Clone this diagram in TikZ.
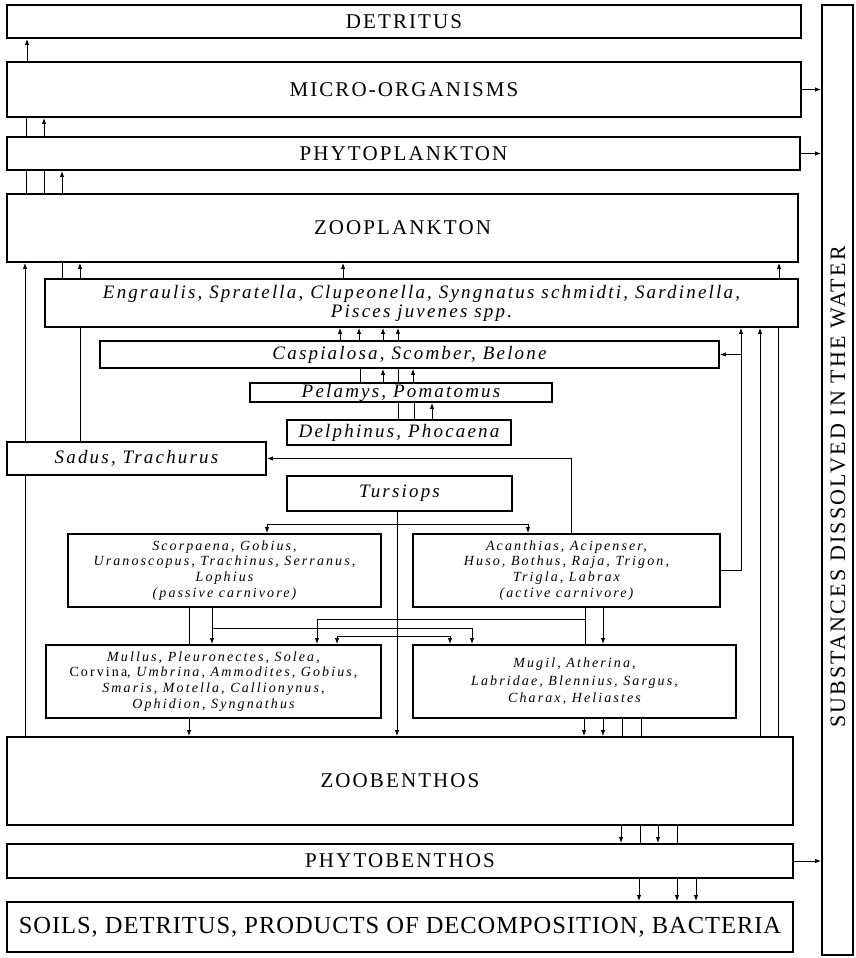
\documentclass[tikz,border=0pt]{standalone}
\usepackage{fontspec}
\setmainfont{Liberation Serif}
\newfontfamily\capsfont[LetterSpace=10]{Liberation Serif}
\newfontfamily\soilfont[LetterSpace=4]{Liberation Serif}
\newfontfamily\latfont[LetterSpace=11.5]{Liberation Serif}
\newfontfamily\smallfont[LetterSpace=15]{Liberation Serif}
\usetikzlibrary{arrows.meta}
\begin{document}
\begin{tikzpicture}[x=1pt,y=-1pt,
 box/.style={draw, line width=1.9pt, inner sep=0pt, align=center},
 caps/.style={font=\capsfont\fontsize{21}{24}\selectfont},
 bigcaps/.style={font=\soilfont\fontsize{24.5}{28}\selectfont},
 latin/.style={font=\latfont\itshape\fontsize{19}{19}\selectfont},
 small/.style={font=\smallfont\itshape\fontsize{14}{15.8}\selectfont},
 con/.style={line width=1pt},
 arr/.style={con,-{Latex[length=6pt,width=4.5pt]}}]
\useasboundingbox (0,0) rectangle (856,958);
% boxes
\node[box,caps,minimum width=794,minimum height=33] (det) at (404,21.5) {DETRITUS};
\node[box,caps,minimum width=794,minimum height=55] (micro) at (404,89.5) {MICRO-ORGANISMS};
\node[box,caps,minimum width=793,minimum height=33] (phyto) at (403.5,153.5) {PHYTOPLANKTON};
\node[box,caps,minimum width=791,minimum height=68] (zoo) at (402.5,228) {ZOOPLANKTON};
\node[box,latin,minimum width=753,minimum height=48] (eng) at (421.5,303) {Engraulis, Spratella, Clupeonella, Syngnatus schmidti, Sardinella,\\ Pisces juvenes spp.};
\node[box,latin,minimum width=619,minimum height=27] (casp) at (409.5,354.5) {Caspialosa, Scomber, Belone};
\node[box,latin,minimum width=302,minimum height=19] (pel) at (401,392.5) {Pelamys, Pomatomus};
\node[box,latin,minimum width=224,minimum height=25] (del) at (399,432.5) {Delphinus, Phocaena};
\node[box,latin,minimum width=259,minimum height=33] (sad) at (136.5,458.5) {Sadus, Trachurus};
\node[box,latin,minimum width=225,minimum height=35] (tur) at (399.5,493.5) {Tursiops};
\node[box,small,minimum width=313,minimum height=73] (scor) at (224.5,570.5) {Scorpaena, Gobius,\\ Uranoscopus, Trachinus, Serranus,\\ Lophius\\ (passive carnivore)};
\node[box,small,minimum width=307,minimum height=73] (acan) at (566.5,570.5) {Acanthias, Acipenser,\\ Huso, Bothus, Raja, Trigon,\\ Trigla, Labrax\\ (active carnivore)};
\node[box,small,minimum width=335,minimum height=73] (mul) at (213.5,681.5) {Mullus, Pleuronectes, Solea,\\ {\upshape Corvina}, Umbrina, Ammodites, Gobius,\\ Smaris, Motella, Callionynus,\\ Ophidion, Syngnathus};
\node[box,small,minimum width=323,minimum height=73,font=\smallfont\itshape\fontsize{14}{17.5}\selectfont] (mug) at (574.5,681.5) {Mugil, Atherina,\\ Labridae, Blennius, Sargus,\\ Charax, Heliastes};
\node[box,caps,minimum width=786,minimum height=88] (zb) at (400,781) {ZOOBENTHOS};
\node[box,caps,minimum width=786,minimum height=34] (pb) at (400,861) {PHYTOBENTHOS};
\node[box,bigcaps,minimum width=786,minimum height=50] (soil) at (400,927) {SOILS, DETRITUS, PRODUCTS OF DECOMPOSITION, BACTERIA};
\node[box,minimum width=31,minimum height=950] (sub) at (837.5,480) {};
\node[font=\capsfont\fontsize{22}{24}\selectfont,rotate=90] (subt) at (838,487) {SUBSTANCES DISSOLVED IN THE WATER};
% top chain
\draw[arr] (27,0 |- micro.north) -- (27,0 |- det.south);
\draw[con] (26,0 |- phyto.north) -- (26,0 |- micro.south);
\draw[arr] (44,0 |- phyto.north) -- (44,0 |- micro.south);
\draw[con] (26,0 |- zoo.north) -- (26,0 |- phyto.south);
\draw[con] (44,0 |- zoo.north) -- (44,0 |- phyto.south);
\draw[arr] (62,0 |- zoo.north) -- (62,0 |- phyto.south);
% left side
\draw[con] (25,0 |- zb.north) -- (25,0 |- sad.south);
\draw[arr] (25,0 |- sad.north) -- (25,0 |- zoo.south);
\draw[con] (62,0 |- eng.north) -- (62,0 |- zoo.south);
\draw[arr] (80,0 |- eng.north) -- (80,0 |- zoo.south);
\draw[arr] (343,0 |- eng.north) -- (343,0 |- zoo.south);
\draw[arr] (779,0 |- eng.north) -- (779,0 |- zoo.south);
\draw[con] (80,0 |- sad.north) -- (80,0 |- eng.south);
% pelagic stack
\foreach \x in {340,359,383,398} \draw[arr] (\x,0 |- casp.north) -- (\x,0 |- eng.south);
\foreach \x in {360,398} \draw[con] (\x,0 |- pel.north) -- (\x,0 |- casp.south);
\foreach \x in {383,413} \draw[arr] (\x,0 |- pel.north) -- (\x,0 |- casp.south);
\foreach \x in {398,414} \draw[con] (\x,0 |- del.north) -- (\x,0 |- pel.south);
\draw[arr] (432,0 |- del.north) -- (432,0 |- pel.south);
% Tursiops
\draw[arr] (397,0 |- tur.south) -- (397,0 |- zb.north);
\coordinate (tj) at (397,524);
\draw[arr] (tj) -| (267,0 |- scor.north);
\draw[arr] (tj) -| (528,0 |- acan.north);
\coordinate (tk) at (397,636);
\draw[arr] (tk) -| (337,0 |- mul.north);
\draw[arr] (tk) -| (450,0 |- mug.north);
% Acanthias
\draw[arr] (571,0 |- acan.north) |- (sad.east);
\draw[arr] (acan.east) -| (741,0 |- eng.south);
\draw[arr] (741,0 |- casp.east) -- (casp.east);
\draw[arr] (760,0 |- zb.north) -- (760,0 |- eng.south);
\draw[con] (778,0 |- zb.north) -- (778,0 |- eng.south);
% carnivores to benthic fish
\draw[con] (189,0 |- scor.south) -- (189,0 |- mul.north);
\draw[arr] (212,0 |- scor.south) -- (212,0 |- mul.north);
\coordinate (sj) at (212,628);
\draw[arr] (sj) -| (472,0 |- mug.north);
\draw[con] (585,0 |- acan.south) -- (585,0 |- mug.north);
\draw[arr] (603,0 |- acan.south) -- (603,0 |- mug.north);
\coordinate (aj) at (585,619);
\draw[arr] (aj) -| (317,0 |- mul.north);
% to zoobenthos
\draw[arr] (189,0 |- mul.south) -- (189,0 |- zb.north);
\foreach \x in {584,603} \draw[arr] (\x,0 |- mug.south) -- (\x,0 |- zb.north);
\foreach \x in {622,641} \draw[con] (\x,0 |- mug.south) -- (\x,0 |- zb.north);
% benthos chain
\foreach \x in {621,658} \draw[arr] (\x,0 |- zb.south) -- (\x,0 |- pb.north);
\foreach \x in {640,677} \draw[con] (\x,0 |- zb.south) -- (\x,0 |- pb.north);
\foreach \x in {639,677,696} \draw[arr] (\x,0 |- pb.south) -- (\x,0 |- soil.north);
% to dissolved substances
\draw[arr] (micro.east) -- (micro.east -| sub.west);
\draw[arr] (phyto.east) -- (phyto.east -| sub.west);
\draw[arr] (pb.east) -- (pb.east -| sub.west);
\end{tikzpicture}
\end{document}
